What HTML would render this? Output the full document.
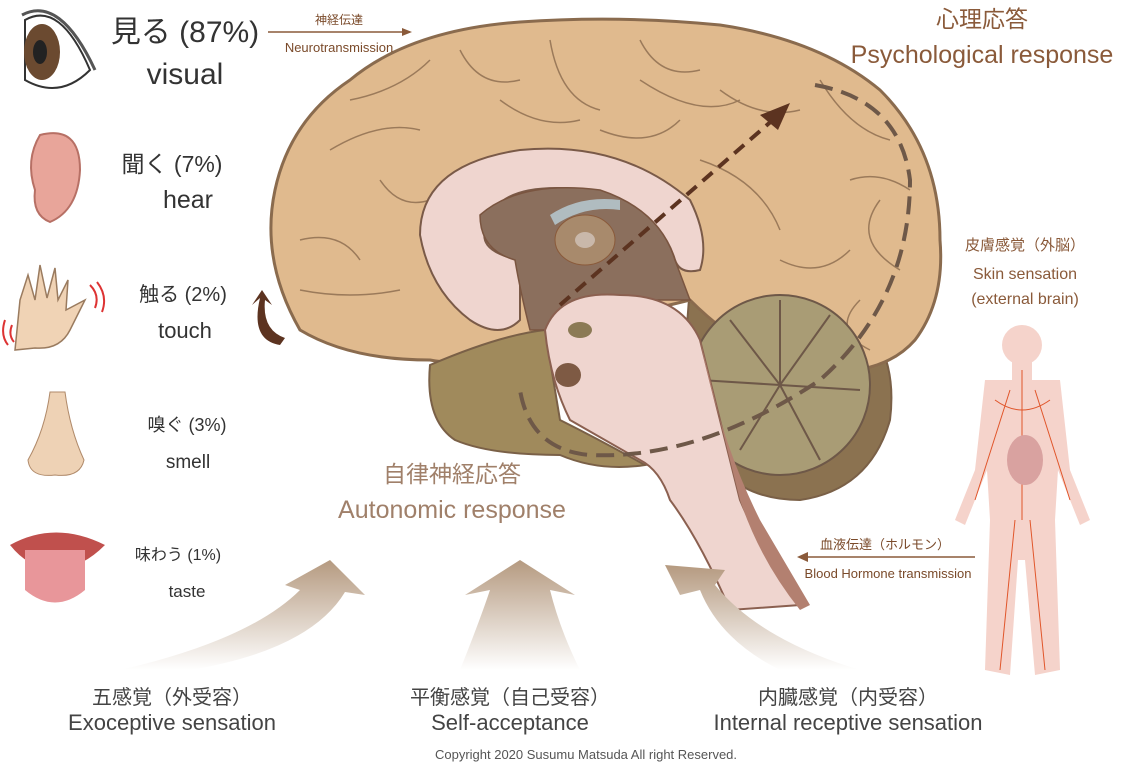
<!DOCTYPE html>
<html><head><meta charset="utf-8"><style>
body{margin:0;background:#fff;width:1124px;height:766px;overflow:hidden}
svg{display:block}
text{font-family:"Liberation Sans","Noto Sans CJK JP",sans-serif}
</style></head><body>
<svg width="1124" height="766" viewBox="0 0 1124 766" xmlns="http://www.w3.org/2000/svg">
<defs>
<linearGradient id="ag" x1="0" y1="1" x2="0" y2="0"><stop offset="0" stop-color="#fff"/><stop offset="1" stop-color="#b59a80"/></linearGradient>
</defs>
<path d="M690 290 Q760 270 840 300 Q900 340 890 420 Q870 490 800 500 Q730 500 700 440 Q680 380 690 290Z" fill="#8b7250" stroke="#7a6047" stroke-width="2"/>
<path d="M300 330 Q260 260 275 190 Q290 120 350 80 Q410 30 520 22 Q620 15 720 25 Q820 40 880 90 Q940 150 940 240 Q945 300 915 340 Q880 380 800 370 Q740 350 690 300 Q650 310 560 330 Q480 370 430 360 Q350 360 300 330Z" fill="#e0ba8e" stroke="#8a6b4e" stroke-width="3"/>
<g fill="none" stroke="#9b7a5a" stroke-width="1.5">
<path d="M330 150 Q380 120 420 130 M350 100 Q400 90 430 60 M460 50 Q480 90 520 80 M550 40 Q560 100 600 110 M640 40 Q660 80 700 70 M720 90 Q760 120 800 110 M820 80 Q850 130 890 140 M880 200 Q850 240 900 270 M300 240 Q340 230 360 260 M300 290 Q350 300 400 290 M860 300 Q830 330 870 350 M600 130 Q650 150 680 120 M700 160 Q760 180 780 230 M780 260 Q820 280 850 250 M380 180 Q400 210 430 200 M500 100 Q540 130 580 120 M640 80 Q700 120 740 100 M850 180 Q880 170 910 190"/>
</g>
<path d="M430 365 Q500 335 545 330 L560 420 Q600 440 645 465 Q600 472 560 455 Q490 455 455 440 Q425 420 430 365Z" fill="#a08a5c" stroke="#7a6047" stroke-width="2"/>
<circle cx="780" cy="385" r="90" fill="#a99c75" stroke="#6e5848" stroke-width="2"/>
<g stroke="#6e5848" stroke-width="2" fill="none"><path d="M780 385 L730 320 M780 385 L830 315 M780 385 L860 390 M780 385 L820 460 M780 385 L740 450 M780 385 L700 380 M780 385 L780 300"/></g>
<path d="M420 235 Q420 165 520 150 Q620 140 690 200 Q710 240 700 270 Q680 275 675 260 Q660 210 590 190 Q500 180 490 220 Q470 250 520 260 L520 320 Q500 340 470 320 Q430 290 420 235Z" fill="#efd5cf" stroke="#7a5a48" stroke-width="2"/>
<path d="M480 215 Q520 180 600 190 Q660 210 675 260 L690 300 L580 300 Q560 310 545 330 L530 330 Q520 290 515 260 Q480 250 480 215Z" fill="#8b6f5d" stroke="#7a5540" stroke-width="1.5"/>
<path d="M550 215 Q580 195 620 200 L620 210 Q585 205 555 225Z" fill="#b0bcc0"/>
<ellipse cx="585" cy="240" rx="30" ry="25" fill="#a88a6c" stroke="#8a5a3a"/>
<ellipse cx="585" cy="240" rx="10" ry="8" fill="#c9b8aa"/>
<path d="M545 330 Q560 290 620 295 Q680 295 700 340 Q720 420 740 500 Q770 570 800 605 L730 610 Q700 540 670 500 Q660 470 640 460 L570 420 Q550 380 545 330Z" fill="#efd5cf" stroke="#8b6050" stroke-width="2"/>
<path d="M700 340 Q720 440 760 520 L810 605 L800 610 Q760 560 740 500 Z" fill="#b38070"/>
<ellipse cx="568" cy="375" rx="13" ry="12" fill="#7e5a44"/>
<ellipse cx="580" cy="330" rx="12" ry="8" fill="#8b7a55"/>
<path d="M815 85 Q900 100 910 180 Q910 300 820 380 Q700 460 590 455 Q530 450 520 390" fill="none" stroke="#6e5848" stroke-width="4" stroke-dasharray="18 9"/>
<line x1="560" y1="305" x2="775" y2="118" stroke="#5c3320" stroke-width="4" stroke-dasharray="13 8"/>
<polygon points="790,103 760,115 778,130" fill="#5c3320"/>
<line x1="268" y1="32" x2="410" y2="32" stroke="#8a5a3a" stroke-width="1.5"/><polygon points="412,32 402,28 402,36" fill="#8a5a3a"/>
<text x="339" y="24" font-size="12" fill="#7a4a2a" text-anchor="middle">神経伝達</text>
<text x="339" y="52" font-size="13" fill="#7a4a2a" text-anchor="middle">Neurotransmission</text>
<line x1="975" y1="557" x2="800" y2="557" stroke="#8a5a3a" stroke-width="1.5"/><polygon points="797,557 808,552 808,562" fill="#8a5a3a"/>
<text x="885" y="549" font-size="13" fill="#7a4a2a" text-anchor="middle">血液伝達（ホルモン）</text>
<text x="888" y="578" font-size="13" fill="#7a4a2a" text-anchor="middle">Blood Hormone transmission</text>
<text x="982" y="27" font-size="23" fill="#8a5a3a" text-anchor="middle">心理応答</text>
<text x="982" y="63" font-size="25" fill="#8a5a3a" text-anchor="middle">Psychological response</text>
<text x="452" y="482" font-size="23" fill="#a0806a" text-anchor="middle">自律神経応答</text>
<text x="452" y="518" font-size="25" fill="#a0806a" text-anchor="middle">Autonomic response</text>
<text x="1025" y="250" font-size="15" fill="#8a5a3a" text-anchor="middle">皮膚感覚（外脳）</text>
<text x="1025" y="279" font-size="16" fill="#8a5a3a" text-anchor="middle">Skin sensation</text>
<text x="1025" y="304" font-size="16" fill="#8a5a3a" text-anchor="middle">(external brain)</text>
<g fill="#f5d3cb">
<circle cx="1022" cy="345" r="20"/>
<rect x="1012" y="360" width="20" height="20"/>
<path d="M985 380 L1060 380 L1070 470 L1090 520 L1080 525 L1058 470 L1055 520 L1060 670 L1035 675 L1025 560 L1018 560 L1010 675 L985 670 L990 520 L987 470 L965 525 L955 520 L975 470Z"/>
</g>
<g stroke="#e0552a" stroke-width="1" fill="none"><path d="M1022 370 L1022 520 M1010 390 L975 500 M1035 390 L1070 500 M1015 520 L1000 670 M1030 520 L1045 670 M995 400 Q1022 420 1050 400"/></g>
<ellipse cx="1025" cy="460" rx="18" ry="25" fill="#d9a2a0"/>
<path d="M120 670 Q250 640 300 590 L285 585 L330 560 L365 595 L345 592 Q310 650 190 670Z" fill="url(#ag)"/>
<path d="M460 670 Q480 620 490 590 L465 595 L520 560 L575 595 L550 590 Q560 630 580 670Z" fill="url(#ag)"/>
<path d="M780 670 Q720 640 700 590 L680 595 L665 565 L725 570 L715 585 Q760 640 860 670Z" fill="url(#ag)"/>
<path d="M280 345 Q250 340 260 298 L252 305 L262 290 L272 305 L265 300 Q262 330 285 338Z" fill="#5c3320"/>
<text x="172" y="704" font-size="20" fill="#444" text-anchor="middle">五感覚（外受容）</text>
<text x="172" y="730" font-size="22" fill="#444" text-anchor="middle">Exoceptive sensation</text>
<text x="510" y="704" font-size="20" fill="#444" text-anchor="middle">平衡感覚（自己受容）</text>
<text x="510" y="730" font-size="22" fill="#444" text-anchor="middle">Self-acceptance</text>
<text x="848" y="704" font-size="20" fill="#444" text-anchor="middle">内臓感覚（内受容）</text>
<text x="848" y="730" font-size="22" fill="#444" text-anchor="middle">Internal receptive sensation</text>
<text x="586" y="759" font-size="13" fill="#555" text-anchor="middle">Copyright 2020 Susumu Matsuda All right Reserved.</text>
<path d="M25 20 Q60 0 90 70 Q60 100 25 80Z" fill="#fff" stroke="#333" stroke-width="2"/>
<ellipse cx="42" cy="52" rx="18" ry="28" fill="#6b4a30"/><ellipse cx="40" cy="52" rx="7" ry="12" fill="#222"/>
<path d="M22 15 Q60 -5 95 70" fill="none" stroke="#555" stroke-width="3"/>
<path d="M40 135 Q80 125 80 170 Q78 210 50 222 Q32 215 35 190 Q25 160 40 135Z" fill="#e8a59a" stroke="#b77065" stroke-width="2"/>
<path d="M15 350 L20 300 L28 275 L35 300 L40 265 L47 298 L55 268 L58 300 L68 280 L66 310 L85 300 L70 330 Q60 350 35 348Z" fill="#f0d3b5" stroke="#9a7b5f" stroke-width="1.5"/>
<path d="M5 320 Q0 335 8 345 M12 325 Q8 335 14 342 M90 285 Q100 295 95 308 M97 282 Q108 296 102 312" stroke="#d33" stroke-width="2" fill="none"/>
<path d="M50 392 Q45 430 28 460 Q30 478 55 475 Q80 478 84 460 Q70 430 65 392Z" fill="#eed2b5" stroke="#b08a6a" stroke-width="1"/>
<path d="M10 545 Q55 520 105 545 Q80 570 55 568 Q30 570 10 545Z" fill="#c0504d"/>
<path d="M25 550 L85 550 L85 590 Q55 615 25 590Z" fill="#e8969a"/>
<text x="185" y="42" font-size="30" fill="#333" text-anchor="middle">見る (87%)</text>
<text x="185" y="84" font-size="30" fill="#333" text-anchor="middle">visual</text>
<text x="172" y="172" font-size="23" fill="#333" text-anchor="middle">聞く (7%)</text>
<text x="188" y="208" font-size="25" fill="#333" text-anchor="middle">hear</text>
<text x="183" y="301" font-size="20" fill="#333" text-anchor="middle">触る (2%)</text>
<text x="185" y="338" font-size="22" fill="#333" text-anchor="middle">touch</text>
<text x="187" y="431" font-size="18" fill="#333" text-anchor="middle">嗅ぐ (3%)</text>
<text x="188" y="468" font-size="19" fill="#333" text-anchor="middle">smell</text>
<text x="178" y="560" font-size="16" fill="#333" text-anchor="middle">味わう (1%)</text>
<text x="187" y="597" font-size="17" fill="#333" text-anchor="middle">taste</text>
</svg>
</body></html>
